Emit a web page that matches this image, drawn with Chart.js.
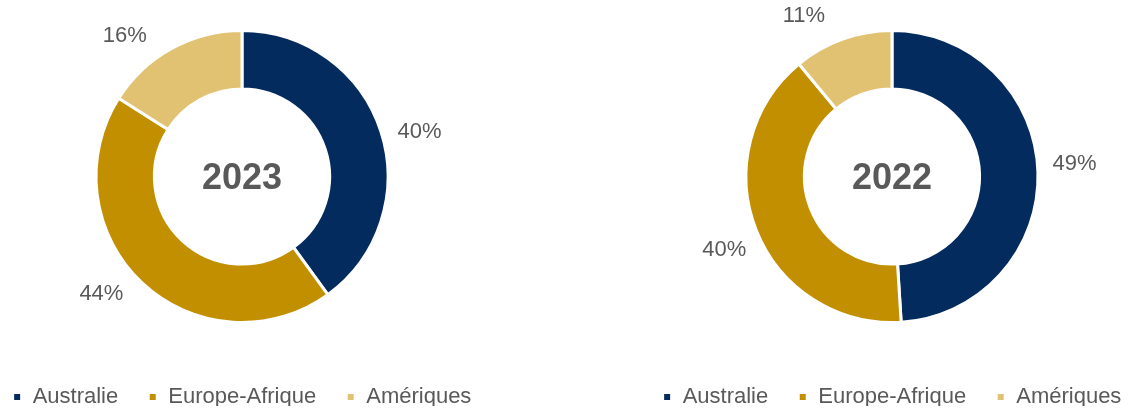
<!DOCTYPE html>
<html>
<head>
<meta charset="utf-8">
<script src="https://cdn.jsdelivr.net/npm/chart.js@4.4.1/dist/chart.umd.min.js"></script>
<style>
  html, body { margin: 0; padding: 0; background: #fff; }
  body { width: 1132px; height: 409px; position: relative; overflow: hidden; }
  .box { position: absolute; top: -3px; width: 560px; height: 409px; }
  #b1 { left: -38px; }
  #b2 { left: 612px; }
</style>
</head>
<body>
<div class="box" id="b1"><canvas id="c2023"></canvas></div>
<div class="box" id="b2"><canvas id="c2022"></canvas></div>
<script>
const categories = ["Australie", "Europe-Afrique", "Amériques"];
const years = ["2023", "2022"];
const shares2023 = [40, 44, 16];
const shares2022 = [49, 40, 11];
const colors = ["#042b5d", "#c18f00", "#e0c272"];
const TXT = "#595959";
const FONT = "'Liberation Sans', Arial, sans-serif";

// percent labels outside the ring + the year in the hole
const ringText = {
    id: "ringText",
    afterDatasetsDraw(chart) {
        const ctx = chart.ctx;
        const meta = chart.getDatasetMeta(0);
        const vals = chart.data.datasets[0].data;
        const nudge = chart.options.plugins.ringText.nudge;
        ctx.save();
        ctx.fillStyle = TXT;
        ctx.textAlign = "center";
        ctx.textBaseline = "middle";
        ctx.font = "22px " + FONT;
        meta.data.forEach((arc, i) => {
            const mid = (arc.startAngle + arc.endAngle) / 2 + nudge[i] * Math.PI / 180;
            const r = arc.outerRadius + 37;
            ctx.fillText(vals[i] + "%", arc.x + Math.cos(mid) * r, arc.y + Math.sin(mid) * r);
        });
        const a = meta.data[0];
        ctx.font = "bold 36px " + FONT;
        ctx.fillText(chart.options.plugins.ringText.year, a.x, a.y + 3);
        ctx.restore();
    }
};

function makeDonut(id, year, values, nudge) {
    return new Chart(document.getElementById(id), {
        type: "doughnut",
        data: {
            labels: categories,
            datasets: [{
                data: values,
                backgroundColor: colors,
                borderColor: "#ffffff",
                borderWidth: 3
            }]
        },
        options: {
            responsive: true,
            maintainAspectRatio: false,
            animation: false,
            radius: 146,
            cutout: "60%",
            layout: { padding: { top: 0, bottom: -12 } },
            plugins: {
                ringText: { year: year, nudge: nudge },
                tooltip: { enabled: false },
                legend: {
                    position: "bottom",
                    labels: {
                        boxWidth: 9,
                        boxHeight: 9,
                        padding: 30,
                        color: TXT,
                        font: { family: FONT, size: 22 }
                    }
                }
            }
        },
        plugins: [ringText]
    });
}

makeDonut("c2023", years[0], shares2023, [4, 7, -11]);
makeDonut("c2022", years[1], shares2022, [-2, -2, -9]);
</script>
</body>
</html>
